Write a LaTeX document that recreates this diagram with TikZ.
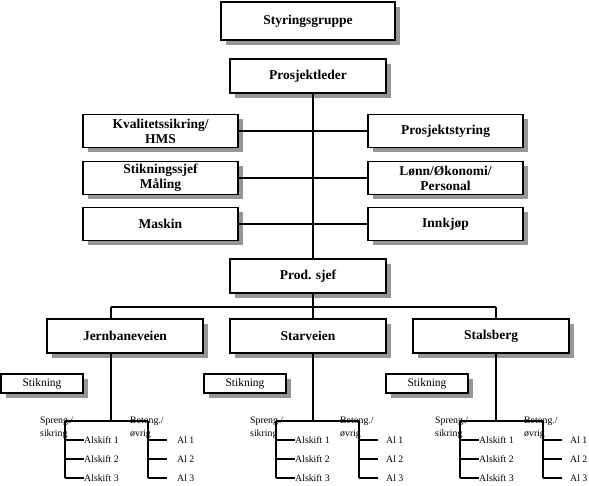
\documentclass[tikz,border=0pt]{standalone}
\usepackage{fontspec}
\setmainfont{Liberation Serif}
\usetikzlibrary{shadows}
\definecolor{shadowgray}{RGB}{150,150,150}
\begin{document}
\begin{tikzpicture}[x=1pt,y=-1pt,
  line/.style={line width=1.6pt},
  box/.style={draw, line width=1.6pt, fill=white, inner sep=0pt, align=center,
    font=\bfseries\fontsize{13.5}{15}\selectfont,
    minimum width=155pt, minimum height=33pt,
    drop shadow={shadow xshift=4.5pt, shadow yshift=-4.5pt, fill=shadowgray, opacity=1}},
  subbox/.style={draw, line width=1.6pt, fill=white, inner sep=0pt,
    font=\fontsize{11.5}{12}\selectfont,
    minimum width=82pt, minimum height=19pt,
    drop shadow={shadow xshift=4.5pt, shadow yshift=-4.5pt, fill=shadowgray, opacity=1}},
  small/.style={inner sep=0pt, font=\fontsize{9.8}{11}\selectfont}]
\useasboundingbox (0,0) rectangle (589,485);

% top part
\node[box, minimum width=174pt, minimum height=38pt] (sg) at (308,21) {Styringsgruppe};
\node[box, minimum width=156pt, minimum height=34pt] (pl) at (308,76) {Prosjektleder};
\node[box] (kv) at (160.5,131) {Kvalitetssikring/\\HMS};
\node[box] (pst) at (445.5,131) {Prosjektstyring};
\node[box] (ss) at (160.5,178) {Stikningssjef\\Måling};
\node[box] (lo) at (445.5,178) {Lønn/Økonomi/\\Personal};
\node[box] (ma) at (160.5,224) {Maskin};
\node[box] (in) at (445.5,224) {Innkjøp};
\node[box, minimum width=156pt, minimum height=34pt] (ps) at (308,276) {Prod. sjef};

\coordinate (c) at (313,0);
\coordinate (hl) at (111,307);
\coordinate (hc) at (313,307);
\coordinate (hr) at (496,307);

\draw[line] (pl.south -| c) -- (ps.north -| c);
\draw[line] (kv.east) -- (pst.west);
\draw[line] (ss.east) -- (lo.west);
\draw[line] (ma.east) -- (in.west);
\draw[line] (ps.south -| c) -- (hc);
\draw[line] (hl) -- (hr);

% branches
\foreach \i/\name/\cx/\lx/\rx/\bx/\sx/\sl/\bl/\al in {%
  1/Jernbaneveien/111/65/148/125/42/40/130/177,
  2/Starveien/313/276/359/308/245/250/340/386,
  3/Stalsberg/496/460/543/491/427/435/524/570} {
  \node[box, minimum width=156pt, minimum height=34pt] (b\i) at (\bx,336) {\name};
  \node[subbox] (st\i) at (\sx,383.5) {Stikning};
  \coordinate (top\i) at (\cx,307);
  \coordinate (bar\i) at (\cx,421);
  \coordinate (bl\i) at (\lx,421);
  \coordinate (br\i) at (\rx,421);
  \draw[line] (top\i) -- (b\i.north -| top\i);
  \draw[line] (b\i.south -| bar\i) -- (bar\i);
  \draw[line] (bl\i) -- (br\i);
  \node[small, anchor=base west] (sp\i) at (\sl,423) {Spreng./};
  \node[small, anchor=base west] (si\i) at (\sl,436) {sikring};
  \node[small, anchor=base west] (be\i) at (\bl,423) {Betong./};
  \node[small, anchor=base west] (ov\i) at (\bl,436) {øvrig};
  \foreach \k/\y in {1/440,2/459,3/478} {
    \node[small, anchor=west] (ak\i\k) at (\lx+19,\y) {Alskift \k};
    \node[small, anchor=west] (al\i\k) at (\al,\y) {Al \k};
    \draw[line] (ak\i\k.west -| bl\i) -- (ak\i\k.west);
    \draw[line] (al\i\k.west -| br\i) -- ++(19,0);
  }
  \draw[line] (bl\i) -- (bl\i |- ak\i3.west);
  \draw[line] (br\i) -- (br\i |- al\i3.west);
}
\end{tikzpicture}
\end{document}
